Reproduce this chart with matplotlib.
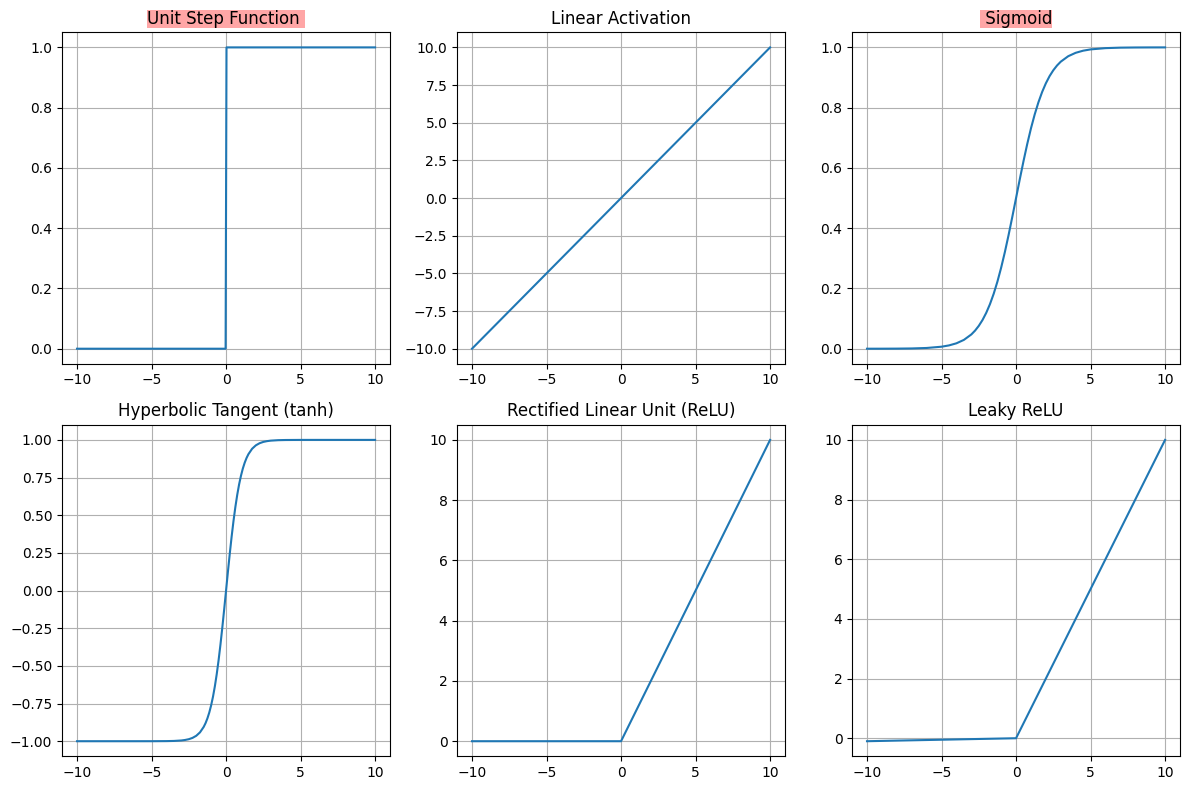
import matplotlib.pyplot as plt

# values
step_x = [-10, -0.03, 0.03, 10]
step_y = [0, 0, 1, 1]

lin_x = [-10, 10]
lin_y = [-10, 10]

sig_x = [-10, -9, -8, -7, -6, -5, -4.5, -4, -3.5, -3, -2.75, -2.5, -2.25, -2, -1.75, -1.5,
         -1.25, -1, -0.75, -0.5, -0.25, 0,
         0.25, 0.5, 0.75, 1, 1.25, 1.5, 1.75, 2, 2.25, 2.5, 2.75, 3, 3.5, 4, 4.5, 5,
         6, 7, 8, 9, 10]
sig_y = [0.00005, 0.00012, 0.00034, 0.0009, 0.0025, 0.0067, 0.011, 0.018, 0.0293, 0.0474,
         0.0601, 0.0759, 0.0953, 0.1192, 0.148, 0.1824, 0.2227, 0.2689, 0.3208, 0.3775,
         0.4378, 0.5,
         0.5622, 0.6225, 0.6792, 0.7311, 0.7773, 0.8176, 0.852, 0.8808, 0.9047, 0.9241,
         0.9399, 0.9526, 0.9707, 0.982, 0.989, 0.9933,
         0.9975, 0.9991, 0.99966, 0.99988, 0.99995]

tanh_x = [-10, -6, -5, -4, -3.5, -3, -2.75, -2.5, -2.25, -2, -1.75, -1.5, -1.375, -1.25,
          -1.125, -1, -0.875, -0.75, -0.625, -0.5, -0.375, -0.25, -0.125, 0,
          0.125, 0.25, 0.375, 0.5, 0.625, 0.75, 0.875, 1, 1.125, 1.25, 1.375, 1.5,
          1.75, 2, 2.25, 2.5, 2.75, 3, 3.5, 4, 5, 6, 10]
tanh_y = [-1.0, -0.99999, -0.99991, -0.9993, -0.9982, -0.9951, -0.9918, -0.9866, -0.978,
          -0.964, -0.9414, -0.9051, -0.8799, -0.8483, -0.8095, -0.7616, -0.7042, -0.6351,
          -0.5546, -0.4621, -0.3584, -0.2449, -0.1244, 0,
          0.1244, 0.2449, 0.3584, 0.4621, 0.5546, 0.6351, 0.7042, 0.7616, 0.8095, 0.8483,
          0.8799, 0.9051, 0.9414, 0.964, 0.978, 0.9866, 0.9918, 0.9951, 0.9982, 0.9993,
          0.99991, 0.99999, 1.0]

relu_x = [-10, 0, 10]
relu_y = [0, 0, 10]

leaky_x = [-10, 0, 10]
leaky_y = [-0.1, 0, 10]

fig, axes = plt.subplots(2, 3, figsize=(12, 8), dpi=100)
hl = dict(facecolor="red", alpha=0.35, pad=0, edgecolor="none")

panels = [
    (step_x, step_y, "Unit Step Function ", hl),
    (lin_x, lin_y, "Linear Activation", None),
    (sig_x, sig_y, " Sigmoid", hl),
    (tanh_x, tanh_y, "Hyperbolic Tangent (tanh)", None),
    (relu_x, relu_y, "Rectified Linear Unit (ReLU)", None),
    (leaky_x, leaky_y, "Leaky ReLU", None),
]
for ax, (x, y, t, bb) in zip(axes.flat, panels):
    ax.plot(x, y)
    if bb:
        ax.set_title(t, bbox=bb)
    else:
        ax.set_title(t)
    ax.grid(True)

plt.tight_layout()
plt.savefig("out.png", bbox_inches="tight")
